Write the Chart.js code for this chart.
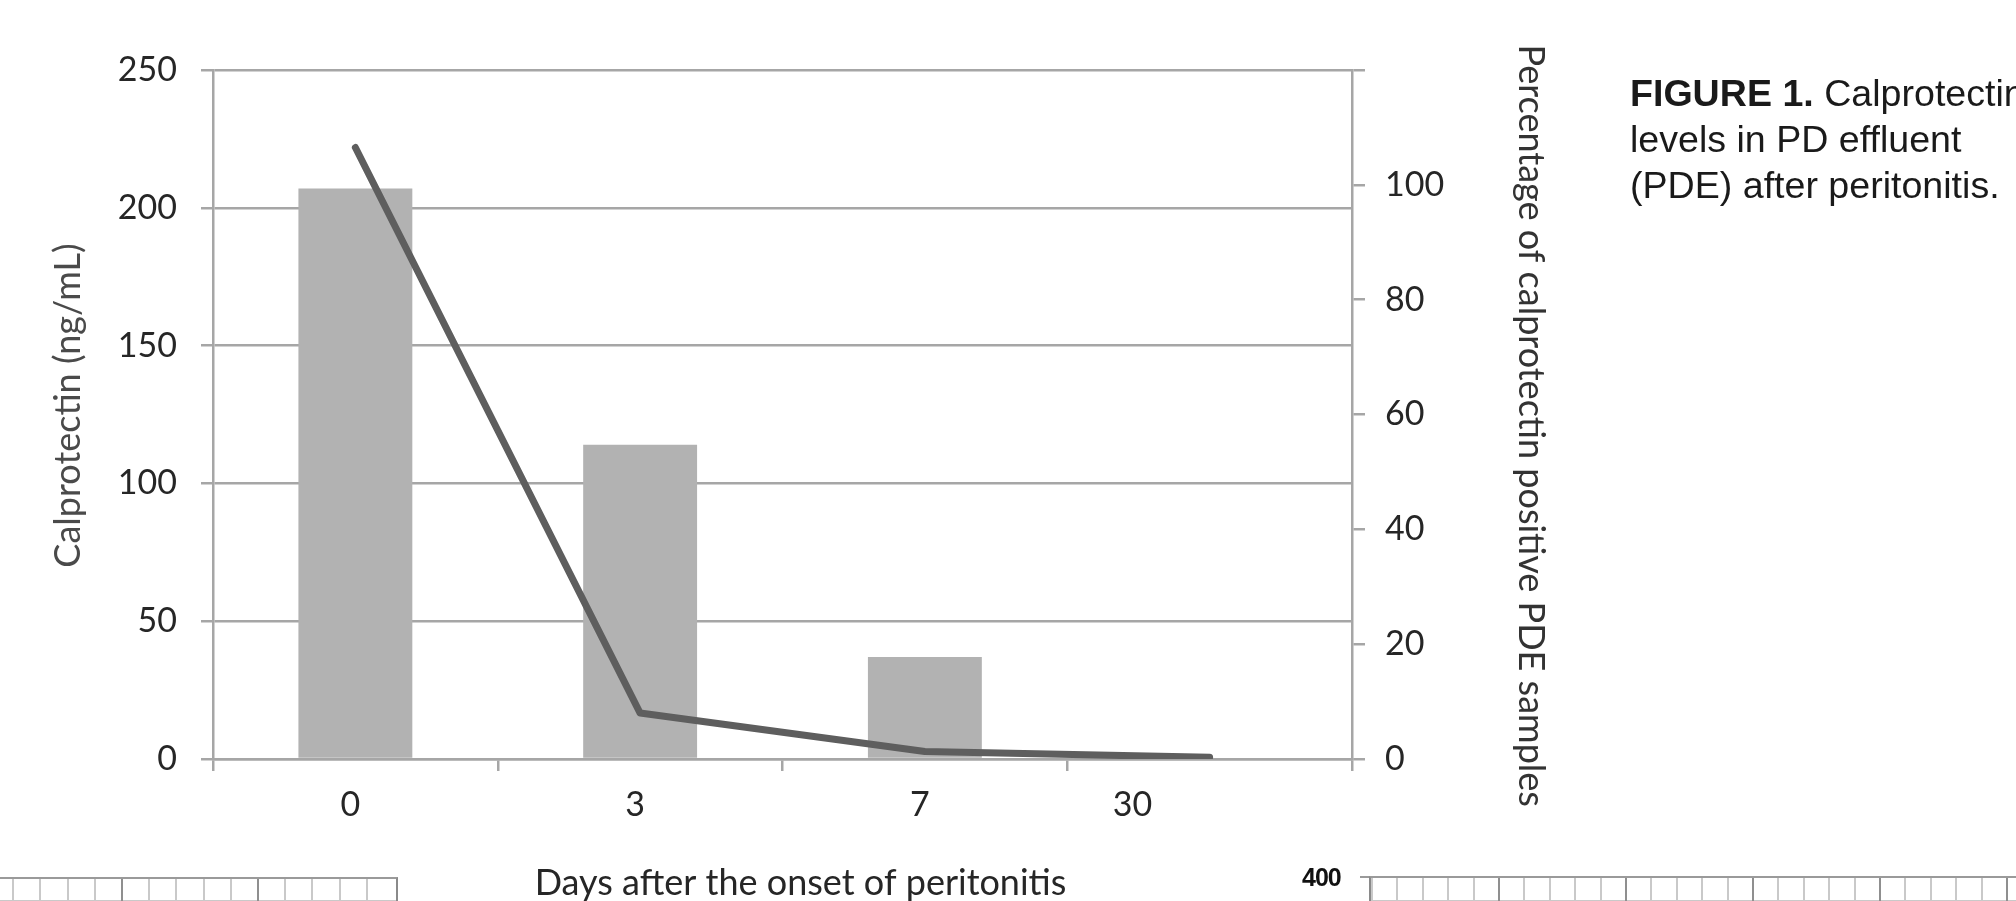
<!DOCTYPE html>
<html>
<head>
<meta charset="utf-8">
<script src="https://cdn.jsdelivr.net/npm/chart.js@4.4.1/dist/chart.umd.min.js"></script>
<style>
  html, body { margin: 0; padding: 0; background: #ffffff; overflow: hidden; width: 2016px; height: 901px; }
  #wrap { position: absolute; left: 0; top: 0; width: 2016px; height: 901px; overflow: hidden; }
  #chart { position: absolute; left: 0; top: 0; }
  #caption {
    position: absolute; left: 1630px; top: 70px; white-space: nowrap;
    font-family: "Liberation Sans", Arial, sans-serif; font-size: 37.6px; line-height: 46px; color: #1a1a1a;
  }
  #caption b { font-weight: bold; }
  .frag { position: absolute; }
  #fragLeft {
    left: 0; top: 877px; width: 396px; height: 30px;
    border-top: 2px solid #9a9a9a; border-right: 2px solid #8a8a8a;
    background-image:
      repeating-linear-gradient(to right, transparent 0, transparent 134px, #8f8f8f 134px, #8f8f8f 136px),
      repeating-linear-gradient(to right, transparent 0, transparent 25.2px, #c9c9c9 25.2px, #c9c9c9 27.2px),
      repeating-linear-gradient(to bottom, transparent 0, transparent 21px, #c9c9c9 21px, #c9c9c9 23px);
    background-position: -13px 0, -13px 0, 0 0;
  }
  #fragRight {
    left: 1369px; top: 876px; width: 660px; height: 30px;
    border-top: 2px solid #9a9a9a; border-left: 2px solid #8a8a8a;
    background-image:
      repeating-linear-gradient(to right, transparent 0, transparent 125px, #8f8f8f 125px, #8f8f8f 127px),
      repeating-linear-gradient(to right, transparent 0, transparent 23.4px, #c9c9c9 23.4px, #c9c9c9 25.4px),
      repeating-linear-gradient(to bottom, transparent 0, transparent 22px, #c9c9c9 22px, #c9c9c9 24px);
    background-position: 2px 0, 2px 0, 0 0;
  }
  #fragTick { left: 1360px; top: 876px; width: 10px; height: 2px; background: #9a9a9a; }
  #fragLabel {
    left: 1302px; top: 862px; font-family: "Liberation Sans", Arial, sans-serif; font-size: 25px; font-weight: bold; line-height: 30px; color: #111;
    letter-spacing: -1px;
  }
</style>
</head>
<body>
<div id="wrap">
  <canvas id="chart" width="2016" height="901"></canvas>
  <div id="caption"><b>FIGURE 1.</b> Calprotectin<br>levels in PD effluent<br>(PDE) after peritonitis.</div>
  <div class="frag" id="fragLeft"></div>
  <div class="frag" id="fragTick"></div>
  <div class="frag" id="fragRight"></div>
  <div class="frag" id="fragLabel">400</div>
</div>
<script>
// ---- data ----
const categories = ['0', '3', '7', '30'];
const calprotectinLevels = [207, 114, 37, 0];          // ng/mL, bars, left axis
const positivePercentages = [106.5, 8, 1.3, 0.3];      // %, line, right axis
const leftAxisMax = 250;
const leftAxisStep = 50;
const rightAxisMax = 120;
const rightAxisStep = 20;
const rightTickLabelsShown = [0, 20, 40, 60, 80, 100];

const xTitle = 'Days after the onset of peritonitis';
const yLeftTitle = 'Calprotectin (ng/mL)';
const yRightTitle = 'Percentage of calprotectin positive PDE samples';

const GRID = '#a6a6a6';
const TICK_FONT = { family: 'Lato', size: 34 };
const TITLE_FONT = { family: 'Lato', size: 36, lineHeight: 1.0 };
const TEXT = '#262626';

new Chart(document.getElementById('chart'), {
  data: {
    labels: categories,
    datasets: [
      {
        type: 'bar',
        data: calprotectinLevels,
        yAxisID: 'y',
        backgroundColor: '#b2b2b2',
        borderWidth: 0,
        categoryPercentage: 1.0,
        barPercentage: 0.4,
        order: 2
      },
      {
        type: 'line',
        data: positivePercentages,
        yAxisID: 'y1',
        borderColor: '#5e5e5e',
        borderWidth: 7,
        borderCapStyle: 'round',
        borderJoinStyle: 'round',
        pointRadius: 0,
        tension: 0,
        fill: false,
        order: 1
      }
    ]
  },
  options: {
    responsive: false,
    animation: false,
    devicePixelRatio: 1,
    layout: { padding: { left: 0, top: 70, right: 462, bottom: 0 } },
    plugins: { legend: { display: false }, tooltip: { enabled: false } },
    scales: {
      x: {
        type: 'category',
        offset: true,
        afterFit: (s) => { s.height = 142; },
        grid: { offset: true, drawOnChartArea: false, drawTicks: true, tickLength: 12, color: GRID, lineWidth: 2.5 },
        border: { display: true, color: GRID, width: 2.5 },
        ticks: {
          font: TICK_FONT, color: TEXT, padding: 14, labelOffset: -5, maxRotation: 0, autoSkip: false,
          callback: function (v, i) {
            const lab = this.getLabelForValue(v);
            return i === categories.length - 1 ? lab + '\u2003\u2003\u2003\u2003\u2003\u2002' : lab;
          }
        },
        title: { display: true, text: '\u2002\u2002' + xTitle, font: TITLE_FONT, color: TEXT, padding: { top: 0, bottom: 0 } }
      },
      y: {
        position: 'left',
        min: 0, max: leftAxisMax,
        afterFit: (s) => { s.width = 213; },
        ticks: { stepSize: leftAxisStep, font: TICK_FONT, color: TEXT, padding: 24 },
        grid: { color: GRID, lineWidth: 2.5, tickLength: 12, drawTicks: true },
        border: { display: true, color: GRID, width: 2.5 },
        title: { display: true, text: '\u2002' + yLeftTitle, font: TITLE_FONT, color: '#4a4a4a', padding: { top: 50, bottom: 0 } }
      },
      y1: {
        position: 'right',
        min: 0, max: rightAxisMax,
        afterFit: (s) => { s.width = 202; },
        ticks: {
          stepSize: rightAxisStep, font: TICK_FONT, color: TEXT, padding: 20,
          callback: (v) => rightTickLabelsShown.includes(v) ? String(v) : ''
        },
        grid: { drawOnChartArea: false, drawTicks: true, tickLength: 13, color: GRID, lineWidth: 2.5 },
        border: { display: true, color: GRID, width: 2.5 },
        title: { display: true, text: '\u2002\u2009' + yRightTitle, font: TITLE_FONT, color: '#333333', padding: { top: 5, bottom: 0 } }
      }
    }
  }
});
</script>
</body>
</html>
